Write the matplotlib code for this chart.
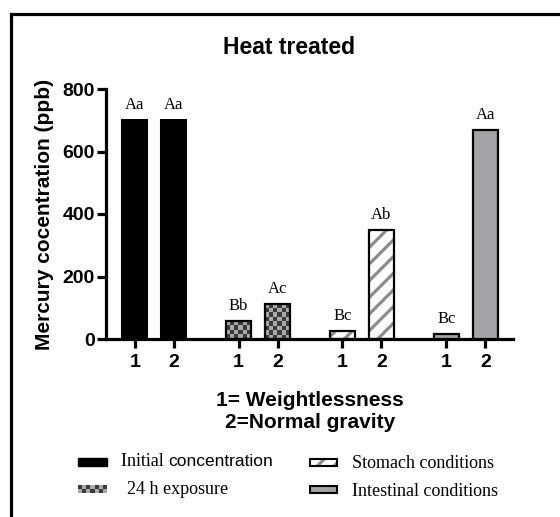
import numpy as np
import matplotlib
matplotlib.use("Agg")
import matplotlib.pyplot as plt
from matplotlib.patches import Rectangle
from matplotlib.colors import ListedColormap

groups = ["Initial concentration", "24 h exposure", "Stomach conditions", "Intestinal conditions"]
weightless = [700, 58, 27, 15]
normal = [700, 113, 350, 668]
letters_w = ["Aa", "Bb", "Bc", "Bc"]
letters_n = ["Aa", "Ac", "Ab", "Aa"]
tick_labels = ["1", "2"]

W, H = 560, 517
sans = "Liberation Sans"
serif = "Liberation Serif"
plt.rcParams["hatch.linewidth"] = 2.3

fig = plt.figure(figsize=(W / 100, H / 100), dpi=100)
ax = fig.add_axes([106 / W, 1 - 339 / H, 407 / W, 250 / H])

checker_cmap = ListedColormap(["#3a3a3a", "#a9a9a9"])
stripe = "#8c8c8c"


def px(x, y):
    return x / W, 1 - y / H


def checker_fill(axis, rect, cell_px=4.2):
    x0, w, h = rect.get_x(), rect.get_width(), rect.get_height()
    # size of the bar in pixels to pick the number of cells
    wpx = w * 39.0
    hpx = h * 250 / 800
    nx = max(1, int(round(wpx / cell_px)))
    ny = max(1, int(round(hpx / cell_px)))
    img = np.indices((ny, nx)).sum(0) % 2
    im = axis.imshow(img, cmap=checker_cmap, extent=[x0, x0 + w, 0, h],
                     aspect="auto", interpolation="nearest", origin="lower", zorder=2)
    im.set_clip_path(rect)


gap = 2.66
width = 0.64
for g in range(4):
    xs = [g * gap, g * gap + 1]
    vals = [weightless[g], normal[g]]
    labs = [letters_w[g], letters_n[g]]
    for x, v, lab in zip(xs, vals, labs):
        if g == 0:
            ax.bar(x, v, width, color="black", edgecolor="black", linewidth=1.5, zorder=3)
        elif g == 1:
            b = ax.bar(x, v, width, color="#a9a9a9", linewidth=0, zorder=1)
            checker_fill(ax, b[0])
            ax.bar(x, v, width, fill=False, edgecolor="black", linewidth=1.6, zorder=3)
        elif g == 2:
            ax.bar(x, v, width, color="white", edgecolor=stripe, hatch="//",
                   linewidth=0, zorder=2)
            ax.bar(x, v, width, fill=False, edgecolor="black", linewidth=1.6, zorder=3)
        else:
            ax.bar(x, v, width, color="#a3a3a7", edgecolor="black", linewidth=1.6, zorder=3)
        ax.annotate(lab, (x, v), xytext=(0, 5), textcoords="offset points",
                    ha="center", va="bottom", fontsize=12, family=serif)

ax.set_xlim(-0.74, 9.69)
ax.set_ylim(0, 800)
ax.set_yticks([0, 200, 400, 600, 800])
xt = [g * gap + i for g in range(4) for i in range(2)]
ax.set_xticks(xt)
ax.set_xticklabels(tick_labels * 4)
for s in ["top", "right"]:
    ax.spines[s].set_visible(False)
for s in ["left", "bottom"]:
    ax.spines[s].set_linewidth(2.3)
ax.tick_params(width=2.3, length=6.5, labelsize=14)
ax.tick_params(axis="y", pad=1.5)
ax.tick_params(axis="x", pad=4)
for t in ax.get_xticklabels() + ax.get_yticklabels():
    t.set_fontfamily(sans)
    t.set_fontweight("bold")
ax.set_ylabel("Mercury cocentration (ppb)", fontsize=15, fontweight="bold", family=sans)
lab_x = ax.transAxes.inverted().transform(fig.transFigure.transform(px(54, 0)))[0]
ax.yaxis.set_label_coords(lab_x, 0.5)

fig.text(*px(289, 47), "Heat treated", ha="center", va="center", fontsize=16.5,
         fontweight="bold", family=sans)
fig.text(*px(310, 400), "1= Weightlessness", ha="center", va="center", fontsize=15,
         fontweight="bold", family=sans)
fig.text(*px(310, 423), "2=Normal gravity", ha="center", va="center", fontsize=15,
         fontweight="bold", family=sans)

# legend, drawn by hand
lax = fig.add_axes([0, 0, 1, 1], zorder=-1)
lax.axis("off")
lax.add_patch(Rectangle((78, 458), 29, 8, color="black"))
ck = Rectangle((78, 485), 29, 8, facecolor="#a9a9a9", edgecolor="none")
lax.add_patch(ck)
img = np.indices((2, 7)).sum(0) % 2
im = lax.imshow(img, cmap=checker_cmap, extent=[78, 107, 493, 485], aspect="auto",
                interpolation="nearest", zorder=2)
im.set_clip_path(ck)
lax.set_xlim(0, W)
lax.set_ylim(H, 0)
lax.add_patch(Rectangle((310, 458.5), 27, 7, facecolor="white", edgecolor=stripe,
                        hatch="//", linewidth=0))
lax.add_patch(Rectangle((310, 458.5), 27, 7, fill=False, edgecolor="black", linewidth=1.5))
lax.add_patch(Rectangle((310, 485.5), 27, 7, facecolor="#a3a3a7", edgecolor="black",
                        linewidth=1.5))

t1 = fig.text(*px(121, 462), "Initial ", ha="left", va="center", fontsize=13, family=serif)
fig.canvas.draw()
bb = t1.get_window_extent()
fig.text(bb.x1 / W, 1 - 462 / H, "concentration", ha="left", va="center", fontsize=12.5,
         family=sans)
fig.text(*px(127, 489), "24 h exposure", ha="left", va="center", fontsize=13, family=serif)
fig.text(*px(352, 463), groups[2], ha="left", va="center", fontsize=13, family=serif)
fig.text(*px(352, 491), groups[3], ha="left", va="center", fontsize=13, family=serif)

# figure frame (only left and top edges fall inside the image)
fig.patches.append(Rectangle((11 / W, -0.1), 1.2, 1 - 13.5 / H + 0.1, fill=False,
                             edgecolor="black", linewidth=2.3,
                             transform=fig.transFigure, figure=fig))

fig.savefig("out.png", dpi=100)
